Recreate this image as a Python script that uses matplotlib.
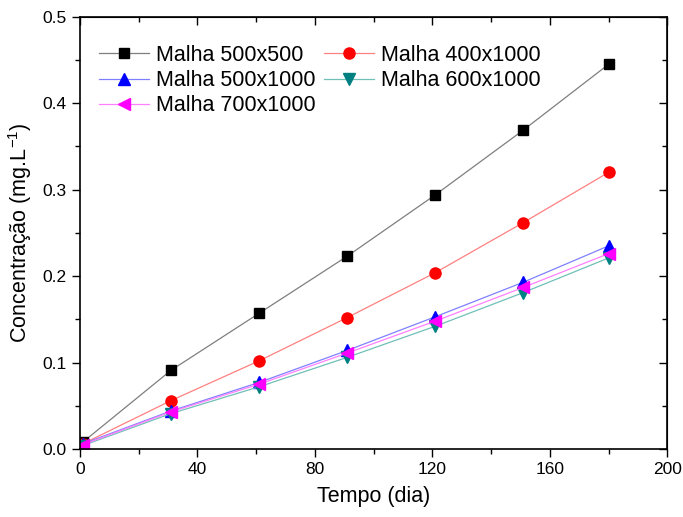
import matplotlib
matplotlib.use('Agg')
from matplotlib import pyplot as plt
from matplotlib.ticker import MultipleLocator, FormatStrFormatter

plt.rcParams['font.family'] = ['Liberation Sans', 'DejaVu Sans']
plt.rcParams['mathtext.fontset'] = 'custom'
plt.rcParams['mathtext.rm'] = 'Liberation Sans'
plt.rcParams['mathtext.it'] = 'Liberation Sans:italic'

# dados
tempo = [1, 31, 61, 91, 121, 151, 180]
malha_500x500 = [0.008, 0.091, 0.157, 0.223, 0.294, 0.369, 0.445]
malha_400x1000 = [0.006, 0.056, 0.102, 0.152, 0.204, 0.262, 0.320]
malha_500x1000 = [0.006, 0.044, 0.077, 0.114, 0.153, 0.193, 0.235]
malha_600x1000 = [0.004, 0.041, 0.072, 0.106, 0.142, 0.181, 0.221]
malha_700x1000 = [0.005, 0.043, 0.075, 0.111, 0.148, 0.187, 0.226]

fig = plt.figure(figsize=(6.83, 5.17), dpi=100)
ax = fig.add_axes([0.117, 0.1315, 0.860, 0.836])

l1, = ax.plot(tempo, malha_500x500, color='#7f7f7f', lw=0.9, marker='s', ms=7,
              mfc='black', mec='black', label='Malha 500x500')
l2, = ax.plot(tempo, malha_400x1000, color='#ff8080', lw=0.9, marker='o', ms=8,
              mfc='red', mec='red', label='Malha 400x1000')
l3, = ax.plot(tempo, malha_500x1000, color='#8080ff', lw=0.9, marker='^', ms=8,
              mfc='blue', mec='blue', label='Malha 500x1000')
l4, = ax.plot(tempo, malha_600x1000, color='#70c0b8', lw=0.9, marker='v', ms=8,
              mfc='#008080', mec='#008080', label='Malha 600x1000')
l5, = ax.plot(tempo, malha_700x1000, color='#ff80ff', lw=0.9, marker='<', ms=8,
              mfc='magenta', mec='magenta', label='Malha 700x1000')

ax.set_xlim(0, 200)
ax.set_ylim(0, 0.5)
ax.xaxis.set_major_locator(MultipleLocator(40))
ax.xaxis.set_minor_locator(MultipleLocator(20))
ax.yaxis.set_major_locator(MultipleLocator(0.1))
ax.yaxis.set_minor_locator(MultipleLocator(0.05))
ax.yaxis.set_major_formatter(FormatStrFormatter('%.1f'))

ax.tick_params(which='both', direction='out', top=False, right=False,
               labelsize=12.5, width=1)
ax.tick_params(which='major', length=6)
ax.tick_params(which='minor', length=3.5)
for s in ax.spines.values():
    s.set_linewidth(1.2)

# ticks espelhados para dentro (topo e direita)
sec_x = ax.secondary_xaxis('top')
sec_x.xaxis.set_major_locator(MultipleLocator(40))
sec_x.xaxis.set_minor_locator(MultipleLocator(20))
sec_x.tick_params(which='both', direction='in', labeltop=False, width=1)
sec_x.tick_params(which='major', length=6)
sec_x.tick_params(which='minor', length=3.5)
sec_y = ax.secondary_yaxis('right')
sec_y.yaxis.set_major_locator(MultipleLocator(0.1))
sec_y.yaxis.set_minor_locator(MultipleLocator(0.05))
sec_y.tick_params(which='both', direction='in', labelright=False, width=1)
sec_y.tick_params(which='major', length=6)
sec_y.tick_params(which='minor', length=3.5)

ax.set_xlabel('Tempo (dia)', fontsize=15.5, labelpad=6)
ax.set_ylabel('Concentração (mg.L$^{-1}$)', fontsize=15.5, labelpad=6)

# legenda preenchida por linhas (como no Origin)
handles = [l1, l3, l5, l2, l4]
ax.legend(handles=handles, labels=[h.get_label() for h in handles],
          loc='upper left', ncol=2, frameon=False, fontsize=15.5,
          handlelength=2.3, handletextpad=0.35, columnspacing=0.4,
          labelspacing=0.2, borderaxespad=0.0, bbox_to_anchor=(0.018, 0.955))

fig.savefig('out.png', dpi=100)
